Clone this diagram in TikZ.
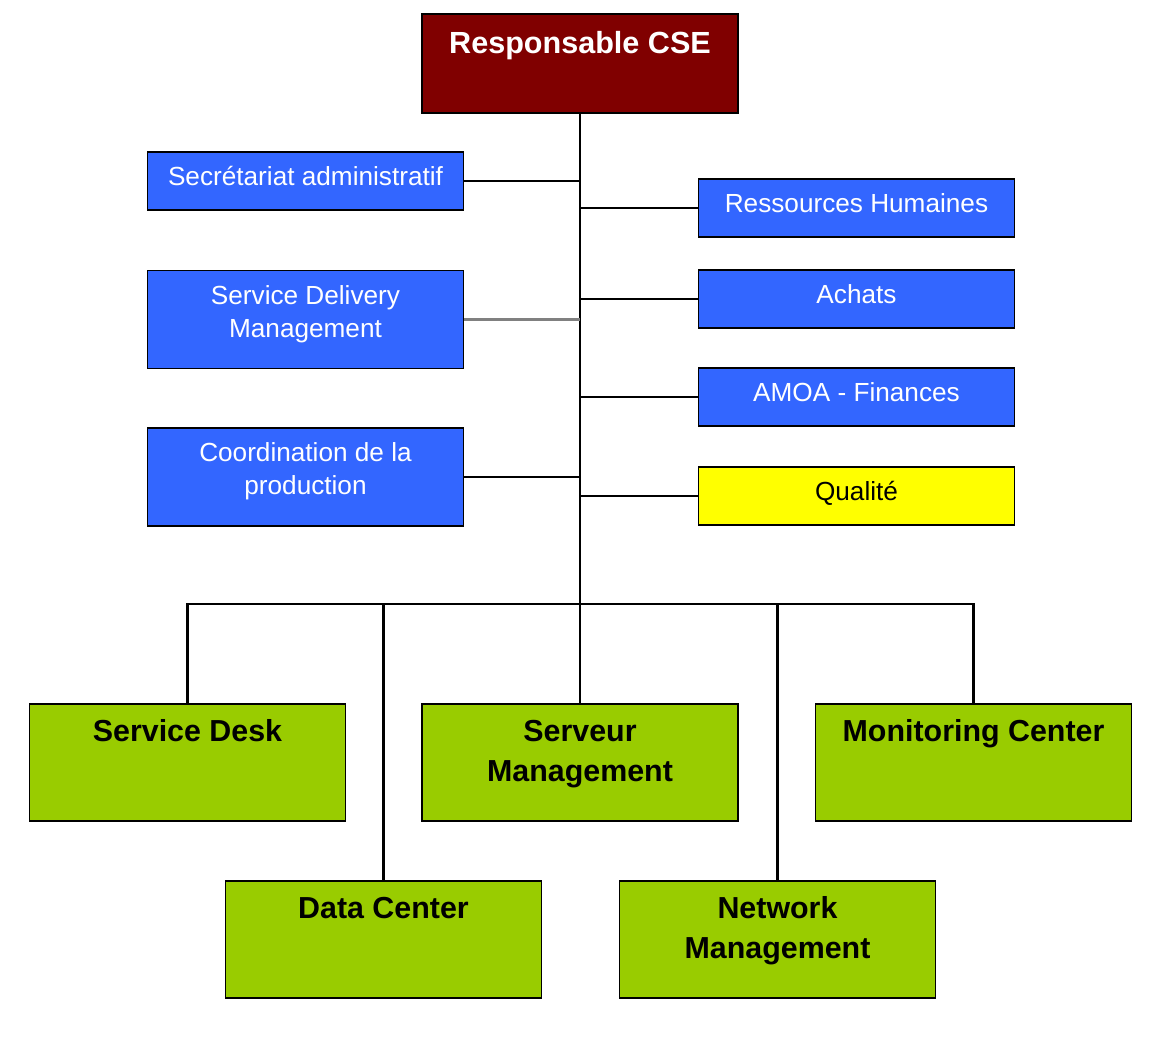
\documentclass[tikz,border=0pt]{standalone}
\usepackage{fontspec}
\setmainfont{Liberation Sans}
\usetikzlibrary{positioning}
\definecolor{cseRed}{RGB}{128,0,0}
\definecolor{cseBlue}{RGB}{51,102,255}
\definecolor{cseGreen}{RGB}{153,204,0}
\definecolor{cseYellow}{RGB}{255,255,0}
\tikzset{
	unit/.style={draw=black, line width=1pt, inner sep=0pt, align=center,
		minimum width=6.32cm},
	headbox/.style={unit, fill=cseRed, text=white,
		font=\bfseries\fontsize{17.4}{22.7}\selectfont,
		minimum height=1.98cm, text height=0.78cm, text depth=1.2cm},
	staffbox/.style={unit, fill=cseBlue, text=white,
		font=\fontsize{14.9}{19}\selectfont,
		minimum height=1.17cm, text height=0.67cm, text depth=0.5cm},
	% two lines: the baseline is the last line
	staffbig/.style={staffbox, minimum height=1.96cm, text height=1.34cm, text depth=0.62cm},
	qualbox/.style={staffbox, fill=cseYellow, text=black},
	teambox/.style={unit, fill=cseGreen, text=black,
		font=\bfseries\fontsize{17.3}{22.7}\selectfont,
		minimum height=2.34cm, text height=0.74cm, text depth=1.6cm},
	teambig/.style={teambox, text height=1.54cm, text depth=0.8cm},
	link/.style={line width=1.2pt, black}
}
\begin{document}
\begin{tikzpicture}[x=0.02cm, y=-0.02cm]
		\useasboundingbox (0,0) rectangle (1171,1048);

		% head ==== V
		\node[headbox] (resp) at (580,63.5) {Responsable CSE};

		% staff, left ==== V
		\node[staffbox] (secr) at (305.5,181) {Secrétariat administratif};
		\node[staffbig] (sdm) at (305.5,319.5) {Service Delivery\\Management};
		\node[staffbig] (coord) at (305.5,477) {Coordination de la\\production};

		% staff, right ==== V
		\node[staffbox] (rh) at (856.5,208) {Ressources Humaines};
		\node[staffbox] (achats) at (856.5,299) {Achats};
		\node[staffbox] (amoa) at (856.5,397) {AMOA - Finances};
		\node[qualbox] (qual) at (856.5,496) {Qualité};

		% teams ==== V
		\node[teambox] (desk) at (187.5,762.5) {Service Desk};
		\node[teambig] (serv) at (580,762.5) {Serveur\\Management};
		\node[teambox] (moni) at (973.5,762.5) {Monitoring Center};
		\node[teambox] (data) at (383.5,939.5) {Data Center};
		\node[teambig] (net) at (777.5,939.5) {Network\\Management};

		% trunk and bus
		\coordinate (bus) at (580,604);
		\draw[link] (resp.south) -- (bus);
		\foreach \n in {secr,coord}
			\draw[link] (\n.east) -- (\n.east -| bus);
		\draw[link, gray] (sdm.east) -- (sdm.east -| bus);
		\foreach \n in {rh,achats,amoa,qual}
			\draw[link] (\n.west) -- (\n.west -| bus);

		% teams hang from the bus
		\draw[link] (desk.north) -- (desk.north |- bus) -- (moni.north |- bus) -- (moni.north);
		\foreach \n in {data,serv,net}
			\draw[link] (\n.north) -- (\n.north |- bus);

\end{tikzpicture}
\end{document}
